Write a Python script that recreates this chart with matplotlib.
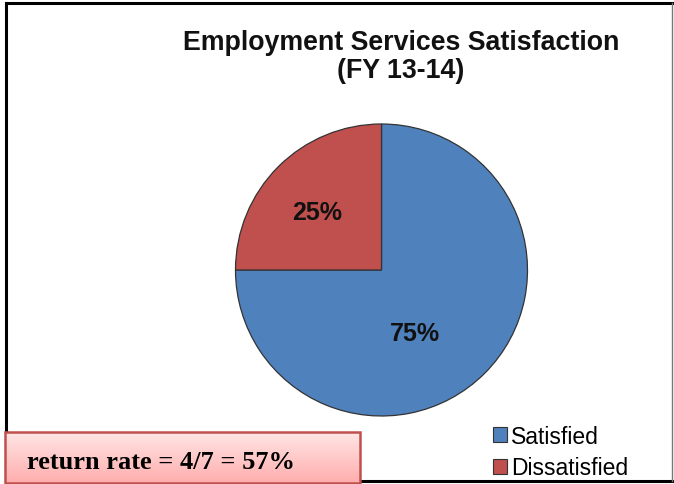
import numpy as np
import matplotlib.pyplot as plt
from matplotlib.patches import Rectangle

labels = ["Satisfied", "Dissatisfied"]
shares = [75, 25]
colors = ["#4F81BD", "#C0504D"]
title = "Employment Services Satisfaction\n(FY 13-14)"
note = "return rate = 4/7 = 57%"

W, H = 674, 485
fig = plt.figure(figsize=(W / 100, H / 100), dpi=100)

# background layer in pixel units (origin top-left)
bg = fig.add_axes([0, 0, 1, 1])
bg.set_xlim(0, W)
bg.set_ylim(H, 0)
bg.axis("off")

# chart frame
bg.plot([6, 6], [4, 482], color="black", lw=2.2, solid_capstyle="projecting")
bg.plot([6, 672], [4, 4], color="black", lw=2.2, solid_capstyle="projecting")
bg.plot([6, 672], [482, 482], color="black", lw=2.2, solid_capstyle="projecting")
bg.plot([672, 672], [4, 482], color="#777777", lw=1.0)

bg.text(401, 57, title, ha="center", va="center", fontsize=19.3,
        fontweight="bold", family="Liberation Sans", linespacing=1.15,
        color="#111111")

# pie
cx, cy, r = 381.5, 271, 146
pax = fig.add_axes([(cx - r) / W, (H - cy - r) / H, 2 * r / W, 2 * r / H])
wedges, _, autotexts = pax.pie(
    shares, colors=colors, startangle=90, counterclock=False,
    autopct="%d%%", pctdistance=0.6,
    wedgeprops=dict(edgecolor="#333333", linewidth=0.9),
    textprops=dict(fontsize=18, fontweight="bold", family="Liberation Sans",
                   color="#111111"))
pax.set_xlim(-1.0, 1.0)
pax.set_ylim(-1.0, 1.0)
pax.set_aspect("equal")
autotexts[0].set_position((0.23, -0.43))
autotexts[1].set_position((-0.44, 0.40))

leg = fig.legend(wedges, labels, loc="upper left",
                 bbox_to_anchor=(472 / W, 1 - 405 / H),
                 frameon=False, handlelength=0.62, handleheight=0.62,
                 handletextpad=0.18, labelspacing=0.38,
                 prop=dict(family="Liberation Sans", size=16.5))
for hnd in leg.legend_handles:
    hnd.set_edgecolor("#333333")
    hnd.set_linewidth(0.8)

# note box with pink gradient
x0, y0, x1, y1 = 5, 433, 360, 484
grad = np.linspace(0, 1, 64)[:, None]
top = np.array([1.0, 0.90, 0.90])
bot = np.array([1.0, 0.68, 0.68])
img = top + (bot - top) * grad[..., None]
bg.imshow(img, extent=(x0, x1, y1, y0), aspect="auto", zorder=2)
bg.add_patch(Rectangle((x0, y0), x1 - x0, y1 - y0, fill=False,
                       edgecolor="#C0504D", lw=1.8, zorder=3))
bg.set_xlim(0, W)
bg.set_ylim(H, 0)
bg.text(27, 463, note, ha="left", va="center", fontsize=19,
        fontweight="bold", family="Liberation Serif", color="black", zorder=4)

fig.savefig("out.png", dpi=100)
